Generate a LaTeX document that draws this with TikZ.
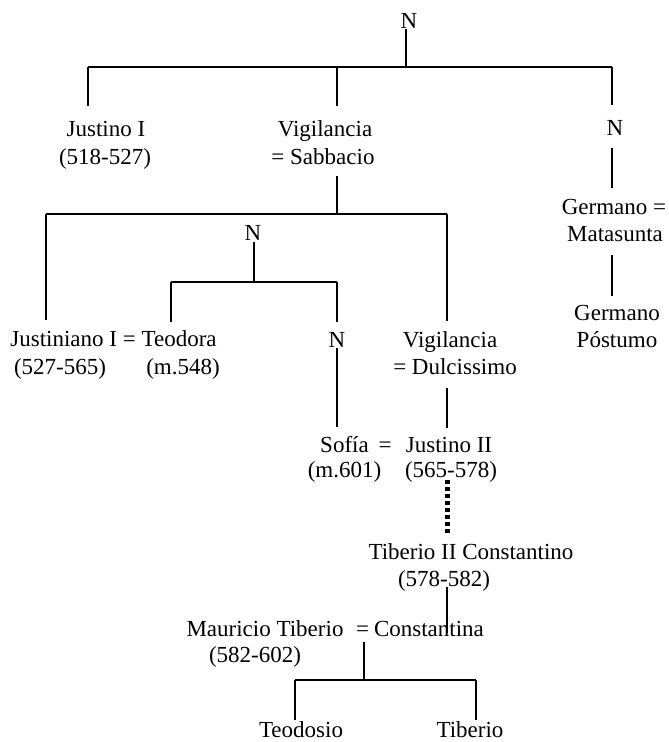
\documentclass[tikz,border=0pt]{standalone}
\usepackage{fontspec}
\setmainfont{Liberation Serif}
\begin{document}
\begin{tikzpicture}[x=1pt,y=-1pt,
  lbl/.style={anchor=base, inner sep=0pt, font=\fontsize{23}{28}\selectfont},
  link/.style={line width=1.5pt},
  heir/.style={line width=5pt, dash pattern=on 4pt off 3pt}]
\useasboundingbox (0,0) rectangle (669,742);

% ---- names and dates ----
\node[lbl] (nTop)      at (409,28)  {N};
\node[lbl] (justino)   at (106,136) {Justino I};
\node[lbl] (justinoD)  at (105,164) {(518-527)};
\node[lbl] (vigA)      at (325,136) {Vigilancia};
\node[lbl] (vigAsp)    at (323,164) {= Sabbacio};
\node[lbl] (nRight)    at (615,135) {N};
\node[lbl] (germano)   at (614,214) {Germano =};
\node[lbl] (matasunta) at (615,241) {Matasunta};
\node[lbl] (germP)     at (617,320) {Germano};
\node[lbl] (germPb)    at (617,347) {Póstumo};
\node[lbl] (nMid)      at (253,240) {N};
\node[lbl] (justinian) at (113.5,346) {Justiniano I = Teodora};
\node[lbl] (justinianD) at (60,374) {(527-565)};
\node[lbl] (teodoraD)  at (183,374) {(m.548)};
\node[lbl] (nSofia)    at (337,347) {N};
\node[lbl] (vigB)      at (450,347) {Vigilancia};
\node[lbl] (vigBsp)    at (455,374) {= Dulcissimo};
\node[lbl] (sofia)     at (344.5,452) {Sofía};
\node[lbl] (eqSJ)      at (385,452) {=};
\node[lbl] (justinoII) at (449,452) {Justino II};
\node[lbl] (sofiaD)    at (344.5,477) {(m.601)};
\node[lbl] (justinoIID) at (451,477) {(565-578)};
\node[lbl] (tiberioII) at (471,559) {Tiberio II Constantino};
\node[lbl] (tiberioIID) at (444,586) {(578-582)};
\node[lbl] (mauricio)  at (265,636) {Mauricio Tiberio};
\node[lbl] (eqMC)      at (362.5,636) {=};
\node[lbl] (constantina) at (429,636) {Constantina};
\node[lbl] (mauricioD) at (255,662) {(582-602)};
\node[lbl] (teodosio)  at (301,737) {Teodosio};
\node[lbl] (tiberio)   at (470,737) {Tiberio};

% ---- junction points ----
\coordinate (topFoot)   at (406,29);
\coordinate (barA)      at (406,67);
\coordinate (barAL)     at (88,67);
\coordinate (barAM)     at (337,67);
\coordinate (barAR)     at (612,67);
\coordinate (justinoTop) at (88,106);
\coordinate (vigATop)   at (337,106);
\coordinate (nRightTop) at (612,105);
\coordinate (nRightFoot) at (612,148);
\coordinate (germanoTop) at (612,188);
\coordinate (matasuntaFoot) at (612,255);
\coordinate (germPTop)  at (612,296);
\coordinate (vigAFoot)  at (337,176);
\coordinate (barB)      at (337,214);
\coordinate (barBL)     at (46,214);
\coordinate (barBR)     at (447,214);
\coordinate (justinianTop) at (46,320);
\coordinate (vigBTop)   at (447,321);
\coordinate (nMidFoot)  at (254,242);
\coordinate (barC)      at (254,282);
\coordinate (barCL)     at (171,282);
\coordinate (barCR)     at (337,282);
\coordinate (teodoraTop) at (171,322);
\coordinate (nSofiaTop) at (337,322);
\coordinate (nSofiaFoot) at (337,348);
\coordinate (sofiaTop)  at (337,427);
\coordinate (vigBFoot)  at (447,388);
\coordinate (justinoIITop) at (447,428);
\coordinate (heirFrom)  at (447,480);
\coordinate (heirTo)    at (447,535);
\coordinate (tiberioIIFoot) at (447,587);
\coordinate (constantinaTop) at (447,633);
\coordinate (coupleFoot) at (364,642);
\coordinate (barD)      at (364,680);
\coordinate (barDL)     at (295,680);
\coordinate (barDR)     at (476,680);
\coordinate (teodosioTop) at (295,720);
\coordinate (tiberioTop) at (476,720);

% ---- lines of descent ----
\draw[link] (topFoot) -- (barA);
\draw[link] (barAL) -- (barAR);
\draw[link] (barAL) -- (justinoTop);
\draw[link] (barAM) -- (vigATop);
\draw[link] (barAR) -- (nRightTop);
\draw[link] (nRightFoot) -- (germanoTop);
\draw[link] (matasuntaFoot) -- (germPTop);
\draw[link] (vigAFoot) -- (barB);
\draw[link] (barBL) -- (barBR);
\draw[link] (barBL) -- (justinianTop);
\draw[link] (barBR) -- (vigBTop);
\draw[link] (nMidFoot) -- (barC);
\draw[link] (barCL) -- (barCR);
\draw[link] (barCL) -- (teodoraTop);
\draw[link] (barCR) -- (nSofiaTop);
\draw[link] (nSofiaFoot) -- (sofiaTop);
\draw[link] (vigBFoot) -- (justinoIITop);
\draw[heir] (heirFrom) -- (heirTo);
\draw[link] (tiberioIIFoot) -- (constantinaTop);
\draw[link] (coupleFoot) -- (barD);
\draw[link] (barDL) -- (barDR);
\draw[link] (barDL) -- (teodosioTop);
\draw[link] (barDR) -- (tiberioTop);
\end{tikzpicture}
\end{document}
